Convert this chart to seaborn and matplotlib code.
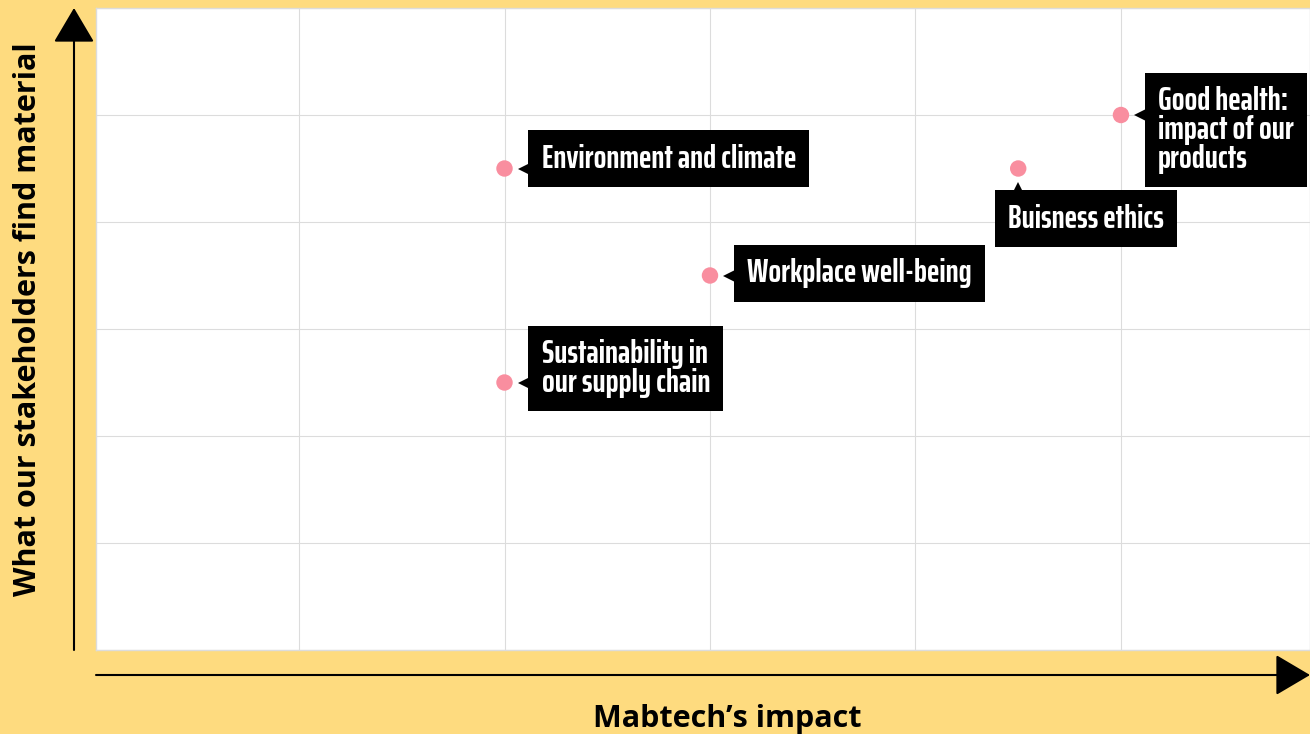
import matplotlib
matplotlib.use("Agg")
import matplotlib.pyplot as plt
import matplotlib.transforms as mtransforms
from matplotlib.patches import FancyArrowPatch
import seaborn as sns
import pandas as pd

# %% Data
topics = ["Environment and climate", "Workplace well-being",
          "Sustainability in\nour supply chain", "Buisness ethics",
          "Good health:\nimpact of our\nproducts"]
impact = [2, 3, 2, 4.5, 5]
material = [4.5, 3.5, 2.5, 4.5, 5]
# where the label box sits relative to its point
sides = ["right", "right", "right", "below", "right"]
box_shift = [10, 2, 14, 0, -15]   # px, vertical shift of box centre

df = pd.DataFrame({"topic": topics, "impact": impact, "material": material})

BG = "#FEDB7F"
PINK = "#F98E9F"
label_font = dict(family=["Saira ExtraCondensed", "DejaVu Sans"], fontweight="bold")

# %% Plot
sns.set_style("whitegrid", {"grid.color": "#dcdcdc", "axes.edgecolor": "#dcdcdc"})
plt.rcParams["font.family"] = ["Open Sans", "DejaVu Sans"]

fig = plt.figure(figsize=(13.1, 7.34), dpi=100, facecolor=BG)
ax = fig.add_axes([96 / 1310, 84 / 734, 1 - 96 / 1310, 642 / 734])
ax.set_facecolor("white")

sns.scatterplot(data=df, x="impact", y="material", ax=ax, color=PINK,
                s=140, edgecolor="none", zorder=5, legend=False)

ax.set_xlim(0.012, 5.92)
ax.set_ylim(0, 6)
ax.set_xticks(range(1, 6))
ax.set_yticks(range(0, 7))
ax.tick_params(length=0, labelbottom=False, labelleft=False)
ax.set_xlabel("")
ax.set_ylabel("")
for sp in ax.spines.values():
    sp.set_color("#dcdcdc")
    sp.set_linewidth(1)

px = 72 / fig.dpi  # points per pixel


def shifted(dx, dy):
    return mtransforms.offset_copy(ax.transData, fig=fig, x=dx * px, y=dy * px, units="points")


box = dict(boxstyle="square,pad=0.4", fc="black", ec="none")
for t, x, y, side, sh in zip(topics, impact, material, sides, box_shift):
    if side == "right":
        ax.text(x, y, t, transform=shifted(37, sh), ha="left", va="center", color="white",
                fontsize=24, linespacing=0.95, zorder=6, bbox=box, **label_font)
        ax.plot(x, y, marker="<", color="black", markersize=9, transform=shifted(19, 0),
                zorder=6, markeredgewidth=0)
    else:
        ax.text(x, y, t, transform=shifted(-10, -50), ha="left", va="center", color="white",
                fontsize=24, linespacing=0.95, zorder=6, bbox=box, **label_font)
        ax.plot(x, y, marker="^", color="black", markersize=9, transform=shifted(0, -19),
                zorder=6, markeredgewidth=0)

# axis arrows drawn on the figure background
arrow = dict(arrowstyle="-|>,head_length=1.1,head_width=0.65", mutation_scale=20,
             color="black", lw=1.5, shrinkA=0, shrinkB=0, transform=fig.transFigure)
fig.add_artist(FancyArrowPatch((74 / 1310, 84 / 734), (74 / 1310, 726 / 734), **arrow))
fig.add_artist(FancyArrowPatch((96 / 1310, 59 / 734), (1310 / 1310, 59 / 734), **arrow))

fig.text(727 / 1310, 15 / 734, "Mabtech\u2019s impact", ha="center", va="center",
         fontsize=22, fontweight="bold", color="black")
fig.text(28 / 1310, 415 / 734, "What our stakeholders find material", ha="center",
         va="center", rotation=90, fontsize=22, fontweight="bold", color="black")

fig.savefig("out.png", dpi=100, facecolor=BG)
